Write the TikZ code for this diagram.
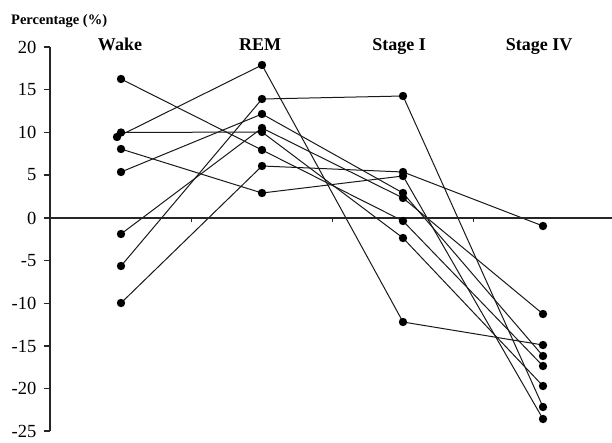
\documentclass[tikz,border=0pt]{standalone}
\usepackage{fontspec}
\setmainfont{Liberation Serif}
\usetikzlibrary{backgrounds}
\tikzset{
  dot/.style={circle,fill=black,inner sep=0pt,minimum size=8.4pt},
  dataline/.style={draw=black!90,line width=1pt},
  axisline/.style={draw=black!85,line width=1.4pt},
  ticklab/.style={anchor=east,inner sep=0pt,font=\fontsize{18.5}{20}\selectfont},
  colhead/.style={anchor=base,inner sep=0pt,font=\fontsize{18}{20}\selectfont\bfseries},
}
\begin{document}
\begin{tikzpicture}[x=1pt,y=-1pt]
\useasboundingbox (0,0) rectangle (612,442);
% axis title
\node[anchor=base west,inner sep=0pt,font=\fontsize{14.5}{16}\selectfont\bfseries] (ytitle) at (11,24) {Percentage (\%)};
% column headings
\node[colhead] (hwake) at (120,50) {Wake};
\node[colhead] (hrem) at (260,50) {REM};
\node[colhead] (hs1) at (399,50) {Stage I};
\node[colhead] (hs4) at (539,50) {Stage IV};
% axes
\coordinate (ytop) at (50,47);
\coordinate (ybot) at (50,431);
\coordinate (xl) at (50,218);
\coordinate (xr) at (612,218);
\draw[axisline] (ytop) -- (ybot);
\draw[axisline,line width=1.2pt] (xl) -- (xr);
\foreach \v/\yy in {20/47,15/89.7,10/132.3,5/175,0/218,-5/260.7,-10/303.3,-15/346,-20/388.7,-25/431} {
  \draw[axisline,line width=1.2pt] (43.5,\yy) -- (50,\yy);
  \node[ticklab] at (36.5,\yy) {\v};
}
\foreach \xx in {191,332,473} {
  \draw[black!85,line width=1pt] (\xx,218) -- (\xx,221.5);
}
% Wake
\node[dot] (w1) at (121,79) {};
\node[dot] (w2) at (121,132.5) {};
\node[dot] (w3) at (117,137) {};
\node[dot] (w4) at (121,149) {};
\node[dot] (w5) at (121,172) {};
\node[dot] (w6) at (121,234) {};
\node[dot] (w7) at (121,266) {};
\node[dot] (w8) at (121,303) {};
% REM
\node[dot] (r1) at (262,65) {};
\node[dot] (r2) at (262,99) {};
\node[dot] (r3) at (262,114) {};
\node[dot] (r4) at (262,128) {};
\node[dot] (r5) at (262,132) {};
\node[dot] (r6) at (262,150) {};
\node[dot] (r7) at (262,166) {};
\node[dot] (r8) at (262,193) {};
% Stage I
\node[dot] (s1) at (403,96) {};
\node[dot] (s2) at (403,172) {};
\node[dot] (s3) at (403,176) {};
\node[dot] (s4) at (403,193) {};
\node[dot] (s5) at (403,198) {};
\node[dot] (s6) at (403,221) {};
\node[dot] (s7) at (403,238) {};
\node[dot] (s8) at (403,322) {};
% Stage IV
\node[dot] (f1) at (543,226) {};
\node[dot] (f2) at (543,314) {};
\node[dot] (f3) at (543,345) {};
\node[dot] (f4) at (543,356) {};
\node[dot] (f5) at (543,366) {};
\node[dot] (f6) at (543,386) {};
\node[dot] (f7) at (543,407) {};
\node[dot] (f8) at (543,419) {};
\begin{pgfonlayer}{background}
\foreach \a/\b in {w1/r6,w3/r1,w2/r5,w4/r8,w5/r3,w6/r4,w7/r2,w8/r7,
                   r1/s8,r2/s1,r3/s4,r4/s5,r5/s7,r6/s6,r7/s2,r8/s3,
                   s1/f7,s2/f1,s3/f8,s4/f4,s5/f2,s6/f5,s7/f6,s8/f3} {
  \draw[dataline] (\a.center) -- (\b.center);
}
\end{pgfonlayer}
\end{tikzpicture}
\end{document}
